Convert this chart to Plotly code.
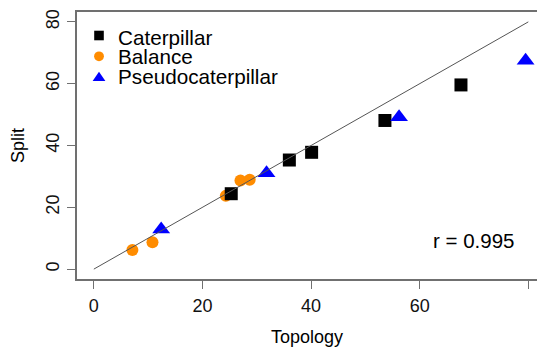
import plotly.graph_objects as go

# ---- data ----
cat_x = [25.3, 36.0, 40.1, 53.6, 67.6]
cat_y = [24.4, 35.3, 37.8, 48.1, 59.6]
bal_x = [7.1, 10.8, 24.3, 27.0, 28.7]
bal_y = [6.2, 8.7, 23.7, 28.7, 28.9]
pse_x = [12.4, 31.8, 56.2, 79.5]
pse_y = [12.9, 31.1, 49.2, 67.5]
diag_x = [0, 80]
diag_y = [0, 80]
tick_vals = [0, 20, 40, 60, 80]
legend_labels = ["Caterpillar", "Balance", "Pseudocaterpillar"]
r_text = "r = 0.995"

W, H = 537, 347
L, R, T, B = 77, 0, 12, 68
PW, PH = W - L - R, H - T - B

def px(x):
    return (x - L) / PW

def py(y):
    return (H - B - y) / PH

FONT = "Liberation Sans, Arial, Helvetica, sans-serif"
GRAY = "#707070"

fig = go.Figure()
fig.add_trace(go.Scatter(x=bal_x, y=bal_y, mode="markers", name=legend_labels[1],
                         marker=dict(symbol="circle", size=12, color="#FF8C00", line=dict(width=0))))
fig.add_trace(go.Scatter(x=cat_x, y=cat_y, mode="markers", name=legend_labels[0],
                         marker=dict(symbol="square", size=13, color="black", line=dict(width=0))))
fig.add_trace(go.Scatter(x=pse_x, y=pse_y, mode="markers", name=legend_labels[2],
                         marker=dict(symbol="triangle-up", size=15.5, color="#0000FF", line=dict(width=0))))
fig.add_trace(go.Scatter(x=diag_x, y=diag_y, mode="lines", showlegend=False,
                         line=dict(color="#555555", width=1)))

shapes = []
# legend symbols
cx = 99.0
s = 4.8
shapes.append(dict(type="rect", xref="paper", yref="paper",
                   x0=px(cx - s), x1=px(cx + s), y0=py(35.5 + s), y1=py(35.5 - s),
                   fillcolor="black", line=dict(width=0)))
shapes.append(dict(type="circle", xref="paper", yref="paper",
                   x0=px(cx - 4.9), x1=px(cx + 4.9), y0=py(56.3 + 4.9), y1=py(56.3 - 4.9),
                   fillcolor="#FF8C00", line=dict(width=0)))
tw = 6.4
shapes.append(dict(type="path", xref="paper", yref="paper",
                   path=f"M {px(cx - tw)} {py(81.0)} L {px(cx + tw)} {py(81.0)} L {px(cx)} {py(71.8)} Z",
                   fillcolor="#0000FF", line=dict(width=0)))

annotations = []
for lab, yy in zip(legend_labels, [37, 57, 76.5]):
    annotations.append(dict(text=lab, xref="paper", yref="paper", x=px(115.5), y=py(yy),
                            xanchor="left", yanchor="middle", showarrow=False,
                            font=dict(family=FONT, size=20.7, color="black")))
annotations.append(dict(text=r_text, xref="paper", yref="paper", x=px(431), y=py(240),
                        xanchor="left", yanchor="middle", showarrow=False,
                        font=dict(family=FONT, size=20.5, color="black")))

fig.update_layout(
    width=W, height=H,
    margin=dict(l=L, r=R, t=T, b=B),
    paper_bgcolor="white", plot_bgcolor="white",
    showlegend=False,
    font=dict(family=FONT, size=18, color="black"),
    shapes=shapes, annotations=annotations,
    xaxis=dict(range=[-3.1, 81.6], tickvals=tick_vals, showgrid=False, zeroline=False,
               showline=True, linecolor=GRAY, linewidth=1.5, mirror=True,
               ticks="outside", ticklen=8, tickcolor=GRAY, tickwidth=1.2,
               ticklabelstandoff=2,
               tickfont=dict(size=18, color="#111"),
               title=dict(text="Topology", font=dict(size=18), standoff=16)),
    yaxis=dict(range=[-3.2, 83.2], tickvals=tick_vals, showgrid=False, zeroline=False,
               showline=True, linecolor=GRAY, linewidth=1.5, mirror=False,
               ticks="outside", ticklen=8, tickcolor=GRAY, tickwidth=1.2, tickangle=-90,
               ticklabelstandoff=1,
               tickfont=dict(size=18, color="#111"),
               title=dict(text="Split", font=dict(size=18), standoff=14)),
)

fig.write_html("out.html")
